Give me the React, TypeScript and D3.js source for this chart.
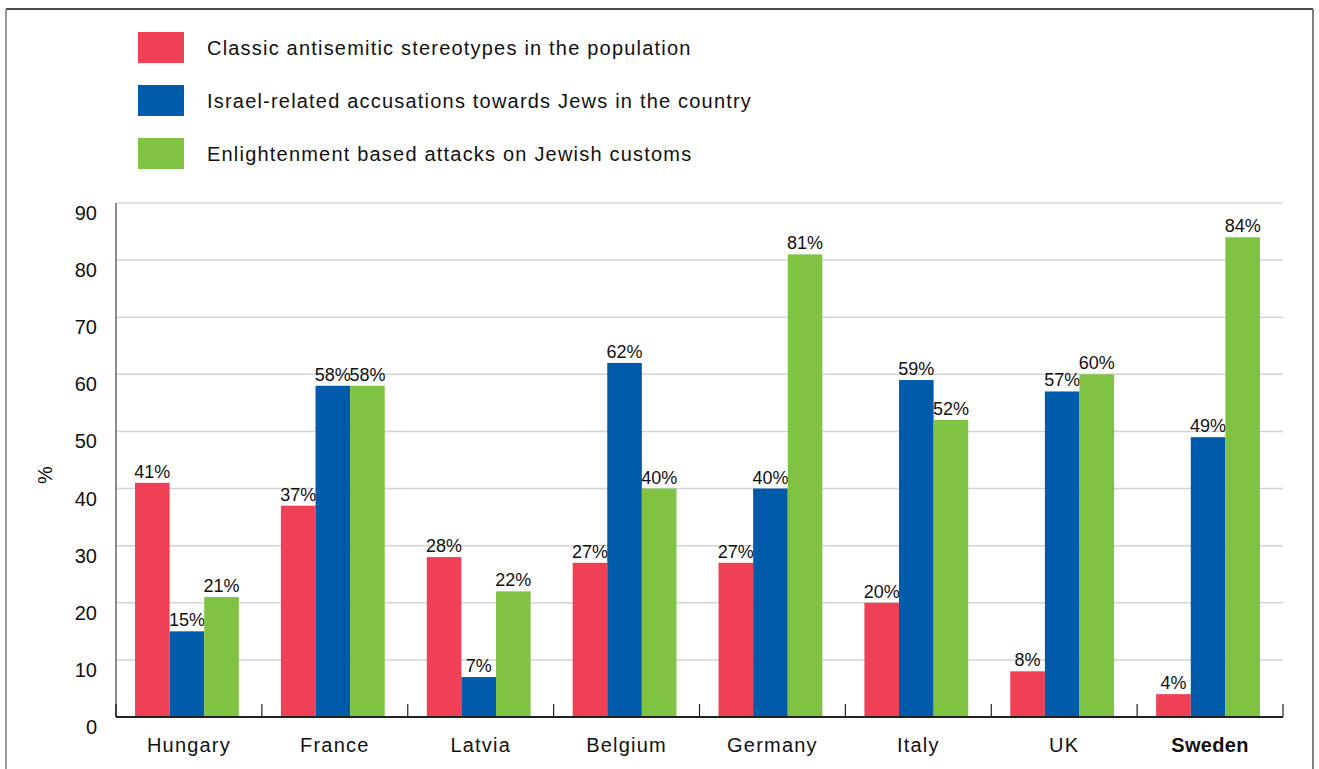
import React from "react";
import * as d3 from "d3";

const countries = ["Hungary", "France", "Latvia", "Belgium", "Germany", "Italy", "UK", "Sweden"];
const seriesNames = [
  "Classic antisemitic stereotypes in the population",
  "Israel-related accusations towards Jews in the country",
  "Enlightenment based attacks on Jewish customs",
];
const classic = [41, 37, 28, 27, 27, 20, 8, 4];
const israel = [15, 58, 7, 62, 40, 59, 57, 49];
const enlightenment = [21, 58, 22, 40, 81, 52, 60, 84];
const yTicks = [0, 10, 20, 30, 40, 50, 60, 70, 80, 90];
const colors = ["#EF4056", "#005BAA", "#80C242"];

const W = 1319, H = 769;
const FONT = "'Liberation Sans', Arial, sans-serif";

export default function App() {
  const series = [classic, israel, enlightenment];
  const x0 = d3.scaleBand<string>().domain(countries).range([116, 1283]).paddingInner(0).paddingOuter(0);
  const x1 = d3.scaleBand<number>().domain([0, 1, 2]).range([0, x0.bandwidth() - 4]).paddingOuter(0.55).paddingInner(0);
  const y = d3.scaleLinear().domain([0, 90]).range([717, 203]);

  return (
    <svg width={W} height={H} style={{ position: "absolute", left: 0, top: 0, background: "#fff" }} fontFamily={FONT}>
      {/* frame */}
      <line x1={6} x2={1313} y1={9} y2={9} stroke="#111" strokeWidth={1.5} />
      <line x1={6} x2={6} y1={9} y2={H} stroke="#777" strokeWidth={1.5} />
      <line x1={1313} x2={1313} y1={9} y2={H} stroke="#555" strokeWidth={1.5} />

      {/* legend */}
      {seriesNames.map((s, i) => (
        <g key={s}>
          <rect x={138} y={32 + i * 53} width={46} height={31} fill={colors[i]} />
          <text x={207} y={47.5 + i * 53} dominantBaseline="central" fontSize={20} letterSpacing={1.2} fill="#111">{s}</text>
        </g>
      ))}

      {/* gridlines */}
      {yTicks.filter((t) => t > 0).map((t) => (
        <line key={t} x1={116} x2={1283} y1={y(t)} y2={y(t)} stroke="#d4d4d4" strokeWidth={1.5} />
      ))}
      {/* y tick labels */}
      {yTicks.map((t) => (
        <text key={t} x={97} y={y(t) + 10} textAnchor="end" dominantBaseline="central" fontSize={20} fill="#111">{t}</text>
      ))}
      <text transform={`translate(45,475) rotate(-90)`} textAnchor="middle" dominantBaseline="central" fontSize={20} fill="#111">%</text>

      {/* bars */}
      {countries.map((c) => (
        <g key={c} transform={`translate(${x0(c)},0)`}>
          {series.map((arr, si) => {
            const v = arr[countries.indexOf(c)];
            const bx = x1(si)!;
            return (
              <g key={si}>
                <rect x={bx} y={y(v)} width={x1.bandwidth()} height={y(0) - y(v)} fill={colors[si]} />
                <text x={bx + x1.bandwidth() / 2} y={y(v) - 5} textAnchor="middle" fontSize={18} fill="#111">{v}%</text>
              </g>
            );
          })}
        </g>
      ))}

      {/* axes */}
      <line x1={116} x2={116} y1={203} y2={717} stroke="#666" strokeWidth={1.5} />
      <line x1={116} x2={1283} y1={717} y2={717} stroke="#222" strokeWidth={2} />
      {countries.map((c) => (
        <line key={c} x1={x0(c)! + x0.bandwidth()} x2={x0(c)! + x0.bandwidth()} y1={704} y2={717} stroke="#222" strokeWidth={1.2} />
      ))}
      <line x1={116} x2={116} y1={704} y2={717} stroke="#222" strokeWidth={1.5} />
      {countries.map((c) => (
        <text key={c} x={x0(c)! + x0.bandwidth() / 2} y={745} textAnchor="middle" dominantBaseline="central" fontSize={20}
          letterSpacing={c === "Sweden" ? 0.3 : 1.2}
          fontWeight={c === "Sweden" ? "bold" : "normal"} fill="#111">{c}</text>
      ))}
    </svg>
  );
}
